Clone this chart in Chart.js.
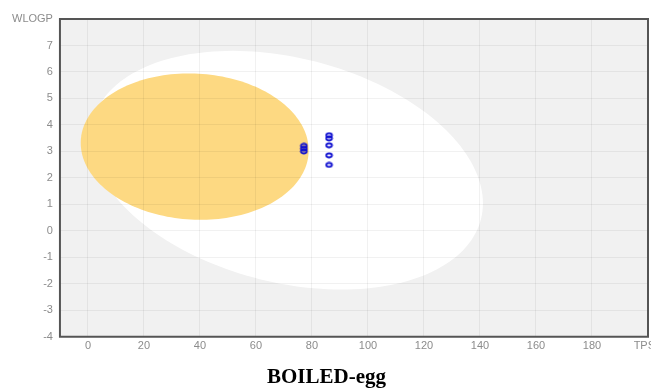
<!DOCTYPE html>
<html>
<head>
<meta charset="utf-8">
<script src="https://cdn.jsdelivr.net/npm/chart.js@4.4.1/dist/chart.umd.min.js"></script>
<style>
  html, body { margin: 0; padding: 0; background: #ffffff; overflow: hidden; }
  #wrap { position: relative; width: 651px; height: 389px; }
</style>
</head>
<body>
<div id="wrap"><canvas id="egg" width="651" height="389"></canvas></div>
<script>
// Axis ticks (the last tick on each axis carries the axis name)
const tpsaTicks = [0, 20, 40, 60, 80, 100, 120, 140, 160, 180, 200];
const wlogpTicks = [-4, -3, -2, -1, 0, 1, 2, 3, 4, 5, 6, 7, 8];
const tpsaName = 'TPSA';
const wlogpName = 'WLOGP';

// Molecules: topological polar surface area vs. WLOGP
const tpsa = [77.1, 77.1, 77.1, 86.1, 86.1, 86.1, 86.1, 86.1];
const wlogp = [3.21, 3.10, 3.00, 3.61, 3.49, 3.23, 2.85, 2.49];

// Egg regions, as centre plus two conjugate half-axis vectors in data units
const whiteCenter = [71.05, 2.29];
const whiteAxisA = [70.0, -1.25];
const whiteAxisB = [0.0, 4.33];
const yolkCenter = [38.12, 3.18];
const yolkAxisA = [40.7, -0.14];
const yolkAxisB = [0.0, 2.76];

// Small hollow marker used for every molecule
function makeMarker() {
  const c = document.createElement('canvas');
  c.width = 9; c.height = 7;
  const g = c.getContext('2d');
  g.strokeStyle = '#1010d0';
  g.lineWidth = 1.8;
  g.beginPath();
  g.ellipse(4.5, 3.5, 2.9, 2.0, 0, 0, Math.PI * 2);
  g.stroke();
  return c;
}

function traceEllipse(chart, center, a, b) {
  const xs = chart.scales.x, ys = chart.scales.y, ctx = chart.ctx;
  const n = 180;
  ctx.beginPath();
  for (let i = 0; i <= n; i++) {
    const t = (i / n) * Math.PI * 2;
    const vx = center[0] + a[0] * Math.cos(t) + b[0] * Math.sin(t);
    const vy = center[1] + a[1] * Math.cos(t) + b[1] * Math.sin(t);
    const px = xs.getPixelForValue(vx), py = ys.getPixelForValue(vy);
    if (i === 0) ctx.moveTo(px, py); else ctx.lineTo(px, py);
  }
  ctx.closePath();
}

const eggPlugin = {
  id: 'egg',
  beforeDraw(chart) {
    const { ctx, chartArea: a } = chart;
    ctx.save();
    ctx.fillStyle = '#f1f1f1';
    ctx.fillRect(a.left, a.top, a.right - a.left, a.bottom - a.top);
    ctx.beginPath();
    ctx.rect(a.left, a.top, a.right - a.left, a.bottom - a.top);
    ctx.clip();
    traceEllipse(chart, whiteCenter, whiteAxisA, whiteAxisB);
    ctx.fillStyle = '#ffffff';
    ctx.fill();
    traceEllipse(chart, yolkCenter, yolkAxisA, yolkAxisB);
    ctx.fillStyle = '#fdd982';
    ctx.fill();
    ctx.restore();
  },
  beforeDatasetsDraw(chart) {
    const { ctx, chartArea: a } = chart;
    ctx.save();
    ctx.strokeStyle = '#555555';
    ctx.lineWidth = 2;
    ctx.strokeRect(a.left, a.top, a.right - a.left, a.bottom - a.top);
    ctx.restore();
  }
};

const tickFont = { family: "'Liberation Sans', Arial, sans-serif", size: 11 };

new Chart(document.getElementById('egg'), {
  type: 'scatter',
  data: {
    datasets: [{
      data: tpsa.map((x, i) => ({ x: x, y: wlogp[i] })),
      pointStyle: makeMarker(),
      pointRadius: 4,
      pointHoverRadius: 4
    }]
  },
  options: {
    responsive: false,
    animation: false,
    devicePixelRatio: 1,
    layout: { autoPadding: false, padding: { top: 19, left: 5, right: 3, bottom: 0 } },
    plugins: {
      legend: { display: false },
      tooltip: { enabled: false },
      title: {
        display: true,
        position: 'bottom',
        text: 'BOILED-egg',
        color: '#000000',
        font: { family: "'Liberation Serif', 'Times New Roman', serif", size: 21, weight: 'bold', lineHeight: 1.05 },
        padding: { top: 11, bottom: 0 }
      }
    },
    scales: {
      x: {
        type: 'linear',
        min: -10,
        max: 200,
        afterBuildTicks(scale) { scale.ticks = tpsaTicks.map(v => ({ value: v })); },
        afterFit(scale) { scale.paddingRight = 0; },
        grid: { color: 'rgba(0,0,0,0.055)', lineWidth: 1, drawTicks: false },
        border: { display: false },
        ticks: {
          color: '#8c8c8c',
          font: tickFont,
          padding: 3,
          maxRotation: 0,
          autoSkip: false,
          callback: v => (v === tpsaTicks[tpsaTicks.length - 1] ? tpsaName : String(v))
        }
      },
      y: {
        type: 'linear',
        min: -4,
        max: 8,
        afterBuildTicks(scale) { scale.ticks = wlogpTicks.map(v => ({ value: v })); },
        grid: { color: 'rgba(0,0,0,0.055)', lineWidth: 1, drawTicks: false },
        border: { display: false },
        ticks: {
          color: '#8c8c8c',
          font: tickFont,
          padding: 7,
          autoSkip: false,
          callback: v => (v === wlogpTicks[wlogpTicks.length - 1] ? wlogpName : String(v))
        }
      }
    }
  },
  plugins: [eggPlugin]
});
</script>
</body>
</html>
